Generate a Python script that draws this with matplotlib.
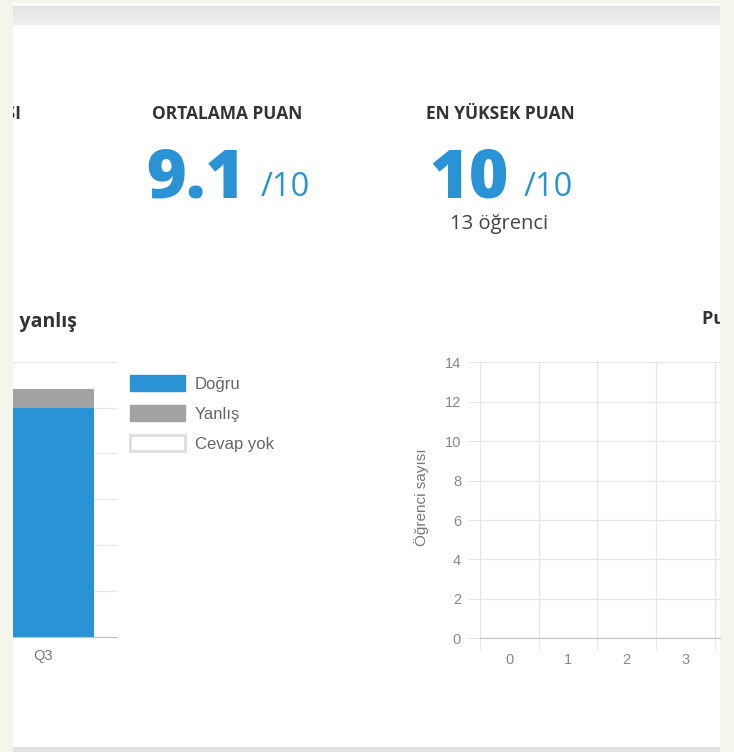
import numpy as np
import matplotlib.pyplot as plt
from matplotlib.colors import LinearSegmentedColormap
from matplotlib.patches import Rectangle, Patch
from matplotlib.transforms import Bbox, TransformedBbox

W, H = 734, 752

# --- data ---
questions = ['Q3']
correct = [25]
wrong = [2]
no_answer = [0]
series_names = ['Doğru', 'Yanlış', 'Cevap yok']

score_labels = ['0', '1', '2', '3']
student_counts = [0, 0, 0, 0]

avg_score = '9.1'
best_score = '10'
out_of = '/10'
best_count = '13 öğrenci'

BLUE = '#2a93d5'
GRAY = '#a3a3a3'
GRID = '#e6e6e6'
ZERO = '#c4c4c4'
HEAD = '#333333'
SANS = ['Liberation Sans', 'DejaVu Sans']
OPEN = ['Open Sans', 'DejaVu Sans']


def box(x0, y0, x1, y1):
    # pixel box (top-left origin) -> figure fraction rect
    return [x0 / W, 1 - y1 / H, (x1 - x0) / W, (y1 - y0) / H]


def pix_clip(x0, y0, x1, y1):
    return TransformedBbox(Bbox.from_extents(x0 / W, 1 - y1 / H, x1 / W, 1 - y0 / H),
                           fig.transFigure)


fig = plt.figure(figsize=(W / 100, H / 100), dpi=100)
fig.patch.set_facecolor('#f6f5eb')

# background axes in pixel coordinates
bg = fig.add_axes([0, 0, 1, 1])
bg.axis('off')
panel = Rectangle((13, 3.3), 707, 744, facecolor='white', edgecolor='none', zorder=0)
bg.add_patch(panel)
grad = np.linspace(0, 1, 40).reshape(-1, 1)
cmap = LinearSegmentedColormap.from_list('band', ['#e3e3e3', '#f0f0f0'])
bg.imshow(grad, extent=(13, 720, 25, 6.7), cmap=cmap, aspect='auto', zorder=1)
bg.add_patch(Rectangle((13, 747), 707, 6, facecolor='#e2e2e2', edgecolor='none', zorder=1))
bg.set_xlim(0, W)
bg.set_ylim(H, 0)

panel_clip = pix_clip(13, 3.3, 720, 747)


def label(x, y, s, clip=None, **kw):
    t = bg.text(x, y, s, **kw)
    if clip is not None:
        t.set_clip_on(True)
        t.set_clip_box(clip)
    return t


# summary figures
label(21, 119.3, 'SORU SAYISI', clip=panel_clip, ha='right', va='baseline',
      fontsize=12.5, fontweight='bold', family=OPEN, color=HEAD)
label(227, 119.3, 'ORTALAMA PUAN', ha='center', va='baseline', fontsize=12.5,
      fontweight='bold', family=OPEN, color=HEAD)
label(500, 119.3, 'EN YÜKSEK PUAN', ha='center', va='baseline', fontsize=12.5,
      fontweight='bold', family=OPEN, color=HEAD)

label(146, 197, avg_score, ha='left', va='baseline', fontsize=49,
      fontweight='heavy', family=OPEN, color=BLUE)
label(261, 196, out_of, ha='left', va='baseline', fontsize=23.5,
      family=OPEN, color=BLUE)
label(429, 197, best_score, ha='left', va='baseline', fontsize=49,
      fontweight='heavy', family=OPEN, color=BLUE)
label(524, 196, out_of, ha='left', va='baseline', fontsize=23.5,
      family=OPEN, color=BLUE)
label(499, 229.3, best_count, ha='center', va='baseline', fontsize=14.5,
      family=OPEN, color='#444444')

# chart titles (cut by the panel edges)
label(77, 327, 'Doğru ve yanlış', clip=pix_clip(17.5, 3.3, 720, 747), ha='right',
      va='baseline', fontsize=14, fontweight='bold', family=OPEN, color=HEAD)
label(702, 324.5, 'Puan dağılımı', clip=panel_clip, ha='left', va='baseline',
      fontsize=13, fontweight='bold', family=OPEN, color=HEAD)

# --- left chart: stacked bar per question ---
ax1 = fig.add_axes(box(13, 361.7, 117, 636.7))
x = np.arange(len(questions))
c = np.array(correct)
w = np.array(wrong)
bw = 0.69
ax1.bar(x, c, width=bw, color=BLUE, zorder=2)
ax1.bar(x, w, width=bw, bottom=c, color=GRAY, zorder=2)
ax1.bar(x, no_answer, width=bw, bottom=c + w, color='white', zorder=2)
ax1.set_xlim(-(43 - 13) / 148, (117 - 43) / 148)
ax1.set_ylim(0, 30)
ax1.set_yticks(np.arange(0, 31, 5))
ax1.yaxis.grid(True, color=GRID, lw=0.9)
ax1.set_axisbelow(True)
for s in ['top', 'right', 'left']:
    ax1.spines[s].set_visible(False)
ax1.spines['bottom'].set_color(ZERO)
ax1.tick_params(axis='y', length=0, labelleft=False)
ax1.set_xticks(x, questions)
ax1.tick_params(axis='x', length=0, pad=9, labelsize=10.5, labelcolor='#777777')
for t in ax1.get_xticklabels():
    t.set_family(SANS)
ax1.patch.set_alpha(0)

handles = [Patch(facecolor=BLUE, edgecolor=BLUE),
           Patch(facecolor=GRAY, edgecolor=GRAY),
           Patch(facecolor='white', edgecolor='#dedede', lw=2)]
leg = ax1.legend(handles, series_names, loc='upper left',
                 bbox_to_anchor=(130 / W, 1 - 375 / H), bbox_transform=fig.transFigure,
                 frameon=False, borderpad=0, borderaxespad=0, handlelength=3.3,
                 handleheight=1.1, handletextpad=0.6, labelspacing=0.8,
                 prop={'family': SANS, 'size': 12})
for t in leg.get_texts():
    t.set_color('#666666')

# --- right chart: score distribution ---
ax2 = fig.add_axes(box(480, 362.3, 720, 638.3))
xs = np.arange(len(score_labels))
ax2.bar(xs, student_counts, width=0.9, color=BLUE, zorder=2)
ax2.set_xlim(-0.5, -0.5 + 240 / 58.7)
ax2.set_ylim(0, 14)
ax2.set_yticks(np.arange(0, 15, 2))
ax2.set_xticks(np.arange(-0.5, len(score_labels) + 0.5, 1))
ax2.set_xticks(xs, score_labels, minor=True)
ax2.tick_params(axis='x', which='major', length=8.6, color=GRID, labelbottom=False)
ax2.tick_params(axis='x', which='minor', length=0, pad=10.5, labelsize=10.5,
                labelcolor='#888888')
ax2.tick_params(axis='y', length=8.6, color=GRID, pad=5, labelsize=10.5,
                labelcolor='#888888')
for t in ax2.get_xticklabels(minor=True) + ax2.get_yticklabels():
    t.set_family(SANS)
ax2.grid(True, which='major', color=GRID, lw=0.9)
ax2.set_axisbelow(True)
for s in ['top', 'right']:
    ax2.spines[s].set_visible(False)
ax2.spines['left'].set_color(GRID)
ax2.spines['bottom'].set_color(ZERO)
ax2.patch.set_alpha(0)
label(421.7, 496.7, 'Öğrenci sayısı', rotation=90, ha='center', va='center',
      fontsize=11, family=SANS, color='#777777')

fig.savefig('out.png', dpi=100, facecolor=fig.get_facecolor())
